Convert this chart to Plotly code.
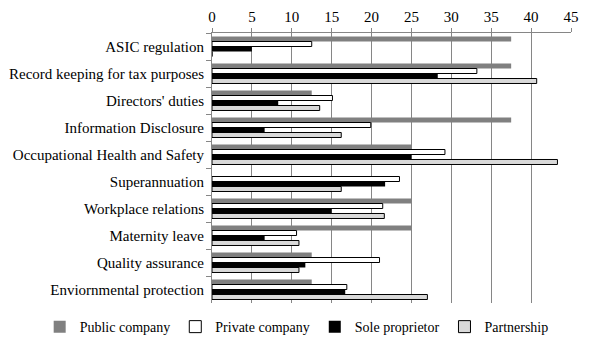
import plotly.graph_objects as go

# categories top to bottom
categories = ["ASIC regulation", "Record keeping for tax purposes", "Directors' duties",
              "Information Disclosure", "Occupational Health and Safety", "Superannuation",
              "Workplace relations", "Maternity leave", "Quality assurance",
              "Enviornmental protection"]

public_company = [37.5, 37.5, 12.5, 37.5, 25.0, 0, 25.0, 25.0, 12.5, 12.5]
private_company = [12.5, 33.2, 15.1, 19.9, 29.2, 23.5, 21.4, 10.6, 21.0, 16.9]
sole_proprietor = [5.0, 28.3, 8.3, 6.6, 25.0, 21.7, 15.0, 6.6, 11.7, 16.7]
partnership = [0, 40.7, 13.5, 16.2, 43.3, 16.2, 21.6, 10.9, 10.9, 27.0]

x_ticks = [0, 5, 10, 15, 20, 25, 30, 35, 40, 45]

font = '"Liberation Serif", "Times New Roman", serif'

fig = go.Figure()

# series: name, values, fill, outline width
series = [
    ("Public company", public_company, "#808080", 0),
    ("Private company", private_company, "#ffffff", 1),
    ("Sole proprietor", sole_proprietor, "#000000", 0),
    ("Partnership", partnership, "#d9d9d9", 1),
]
for name, vals, col, lw in series:
    fig.add_trace(go.Bar(y=categories, x=vals, name=name, orientation="h",
                         marker=dict(color=col, line=dict(color="#000000", width=lw))))

# page body has an 8px margin, so the figure is 8px smaller and shifted
fig.update_layout(
    width=582, height=339,
    margin=dict(l=204, r=19, t=25, b=44, autoexpand=False),
    paper_bgcolor="white", plot_bgcolor="white",
    barmode="group", bargap=0.26, bargroupgap=0,
    font=dict(family=font, size=15, color="#000000"),
    showlegend=True,
    legend=dict(orientation="h", x=-0.48, xanchor="left", y=-0.089, yanchor="middle",
                font=dict(family=font, size=14), itemwidth=30,
                traceorder="normal"),
)
fig.update_xaxes(range=[0, 45], tickvals=x_ticks, side="top",
                 showgrid=True, gridcolor="#868686", gridwidth=1,
                 showline=True, linecolor="#868686",
                 ticks="outside", ticklen=4, tickcolor="#868686",
                 zeroline=False, tickfont=dict(size=15))
fig.update_yaxes(autorange="reversed", showline=True, linecolor="#868686",
                 ticks="outside", ticklen=5, tickcolor="#868686",
                 tickson="boundaries", showgrid=False, ticklabelstandoff=4,
                 tickfont=dict(size=15))

fig.write_html("out.html")
